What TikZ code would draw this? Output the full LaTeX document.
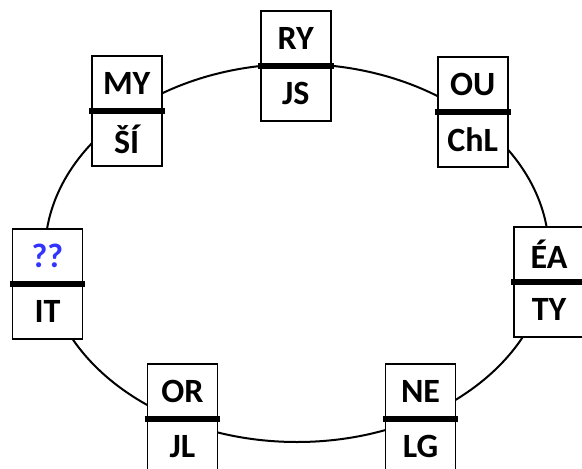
\documentclass[tikz,border=0pt]{standalone}
\usepackage{fontspec}
\setmainfont{Carlito}
\definecolor{qblue}{RGB}{51,51,255}
\newcommand{\pairunit}[5]{%
  \coordinate (#1) at (#2,-#3);
  \node[half, anchor=south] (#1t) at (#1) {#4};
  \node[half, anchor=north] (#1b) at (#1) {#5};
  \draw[bar] ([xshift=-2pt]#1t.south west) -- ([xshift=2pt]#1t.south east);
}
\begin{document}
\begin{tikzpicture}[x=1pt,y=1pt,
  half/.style={draw=black, line width=1.8pt, fill=white, minimum width=70pt, minimum height=54pt, inner sep=0pt, font=\fontsize{34}{34}\selectfont\bfseries},
  bar/.style={line width=6pt},
  ring/.style={line width=2pt}]
\clip (0,0) rectangle (582,-469);
\fill[white] (0,0) rectangle (582,-469);
\draw[ring] (297,-253) ellipse [x radius=252, y radius=189];
\pairunit{ry}{295.7}{66}{RY}{JS}
\pairunit{my}{126.7}{111}{MY}{ŠÍ}
\pairunit{ou}{472.8}{112}{OU}{ChL}
\pairunit{qq}{47.5}{284}{\textcolor{qblue}{??}}{IT}
\pairunit{ea}{549}{282}{ÉA}{TY}
\pairunit{or}{182.5}{419}{OR}{JL}
\pairunit{ne}{420.5}{419}{NE}{LG}
\end{tikzpicture}
\end{document}
